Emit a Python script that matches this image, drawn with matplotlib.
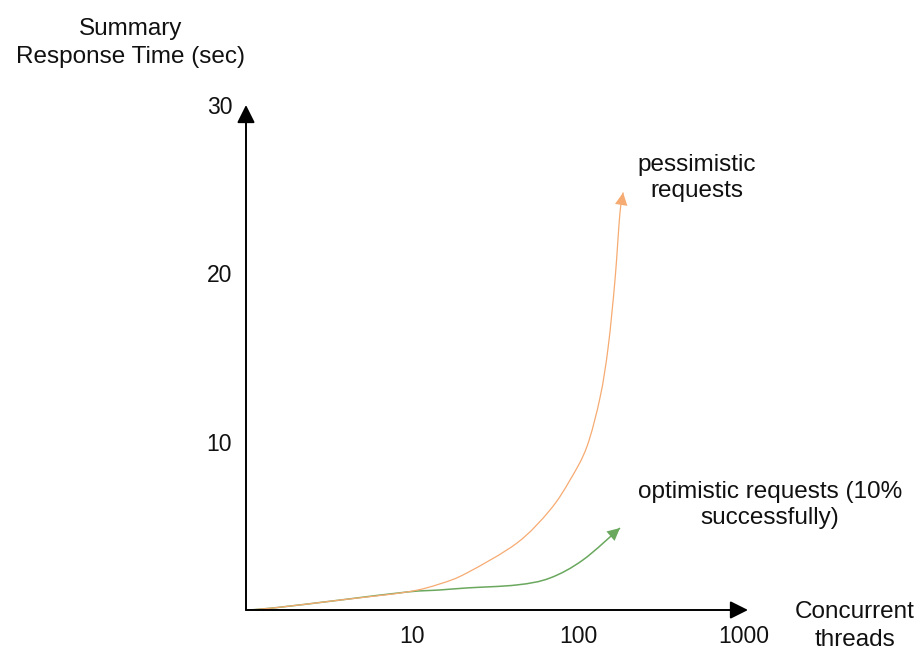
import numpy as np
import matplotlib.pyplot as plt
from matplotlib.path import Path
from matplotlib.patches import PathPatch

plt.rcParams['font.family'] = ['Liberation Sans', 'DejaVu Sans']

# values (threads on a log scale, seconds)
pess_threads = [1, 1.46, 3.68, 9.33, 14.7, 21.4, 42.9, 67.8, 89.5, 113, 136, 152, 167, 179, 187]
pess_time = [0, 0.12, 0.59, 1.07, 1.55, 2.2, 3.98, 5.94, 7.72, 9.69, 12.66, 15.63, 19.6, 23.6, 24.8]

opt_threads = [1, 1.46, 3.68, 9.33, 14.7, 21.4, 42.9, 67.8, 107, 179]
opt_time = [0, 0.12, 0.59, 1.07, 1.19, 1.31, 1.49, 1.90, 2.97, 4.87]

x_ticks = [10, 100, 1000]
x_labels = ["10", "100", "1000"]
y_ticks = [10, 20, 30]
y_labels = ["10", "20", "30"]

orange = "#f6ab72"
green = "#6aa85e"


def smooth_curve(xs, ys):
    # bezier path through the read points (catmull-rom in log-x space)
    p = np.column_stack([np.log10(xs), ys])
    n = len(p)
    verts = [p[0]]
    codes = [Path.MOVETO]
    for i in range(n - 1):
        p0 = p[i - 1] if i > 0 else p[i]
        p3 = p[i + 2] if i + 2 < n else p[i + 1]
        c1 = p[i] + (p[i + 1] - p0) / 6
        c2 = p[i + 1] - (p3 - p[i]) / 6
        verts += [c1, c2, p[i + 1]]
        codes += [Path.CURVE4] * 3
    verts = np.array(verts)
    verts[:, 0] = 10 ** verts[:, 0]
    return Path(verts, codes)


fig = plt.figure(figsize=(9.2, 6.5), dpi=100)
ax = fig.add_axes([246 / 920, 40 / 650, 502 / 920, 505 / 650])
ax.set_xscale("log")
ax.set_xlim(1, 1057)
ax.set_ylim(0, 30)

for s in ax.spines.values():
    s.set_visible(False)

# axes with arrows
axis_arrow = dict(arrowstyle="-|>,head_length=0.6,head_width=0.3", color="black",
                  lw=1.4, shrinkA=0, shrinkB=0, mutation_scale=18)
ax.annotate("", xy=(1, 0), xytext=(0, 0), xycoords="axes fraction",
            textcoords="axes fraction", arrowprops=axis_arrow)
ax.annotate("", xy=(0, 1), xytext=(0, 0), xycoords="axes fraction",
            textcoords="axes fraction", arrowprops=axis_arrow)

ax.set_xticks(x_ticks)
ax.set_xticklabels(x_labels)
ax.set_xticks([], minor=True)
ax.set_yticks(y_ticks)
ax.set_yticklabels(y_labels)
ax.tick_params(axis="x", length=0, pad=11, labelsize=16.5, colors="#111111")
ax.tick_params(axis="y", length=0, pad=10, labelsize=16.5, colors="#111111")

# curves
ax.add_patch(PathPatch(smooth_curve(opt_threads, opt_time), fill=False,
                       edgecolor=green, lw=1.1))
ax.annotate("", xy=(opt_threads[-1], opt_time[-1]), xytext=(opt_threads[-2], opt_time[-2]),
            arrowprops=dict(arrowstyle="-|>,head_length=0.5,head_width=0.25", color=green,
                            lw=0, shrinkA=0, shrinkB=0, mutation_scale=18))
ax.add_patch(PathPatch(smooth_curve(pess_threads, pess_time), fill=False,
                       edgecolor=orange, lw=0.9))
ax.annotate("", xy=(pess_threads[-1], pess_time[-1]), xytext=(pess_threads[-2], pess_time[-2]),
            arrowprops=dict(arrowstyle="-|>,head_length=0.5,head_width=0.25", color=orange,
                            lw=0, shrinkA=0, shrinkB=0, mutation_scale=18))

# labels
fig.text(131 / 920, 1 - 43 / 650, "Summary\nResponse Time (sec)", ha="center", va="center",
         fontsize=17.5, color="#111111", linespacing=1.35)
fig.text(855 / 920, 1 - 626 / 650, "Concurrent\nthreads", ha="center", va="center",
         fontsize=17.5, color="#111111", linespacing=1.3)
fig.text(697 / 920, 1 - 178 / 650, "pessimistic\nrequests", ha="center", va="center",
         fontsize=17.5, color="#111111", linespacing=1.2)
fig.text(770 / 920, 1 - 505 / 650, "optimistic requests (10%\nsuccessfully)", ha="center",
         va="center", fontsize=17.5, color="#111111", linespacing=1.2)

fig.savefig("out.png", dpi=100)
